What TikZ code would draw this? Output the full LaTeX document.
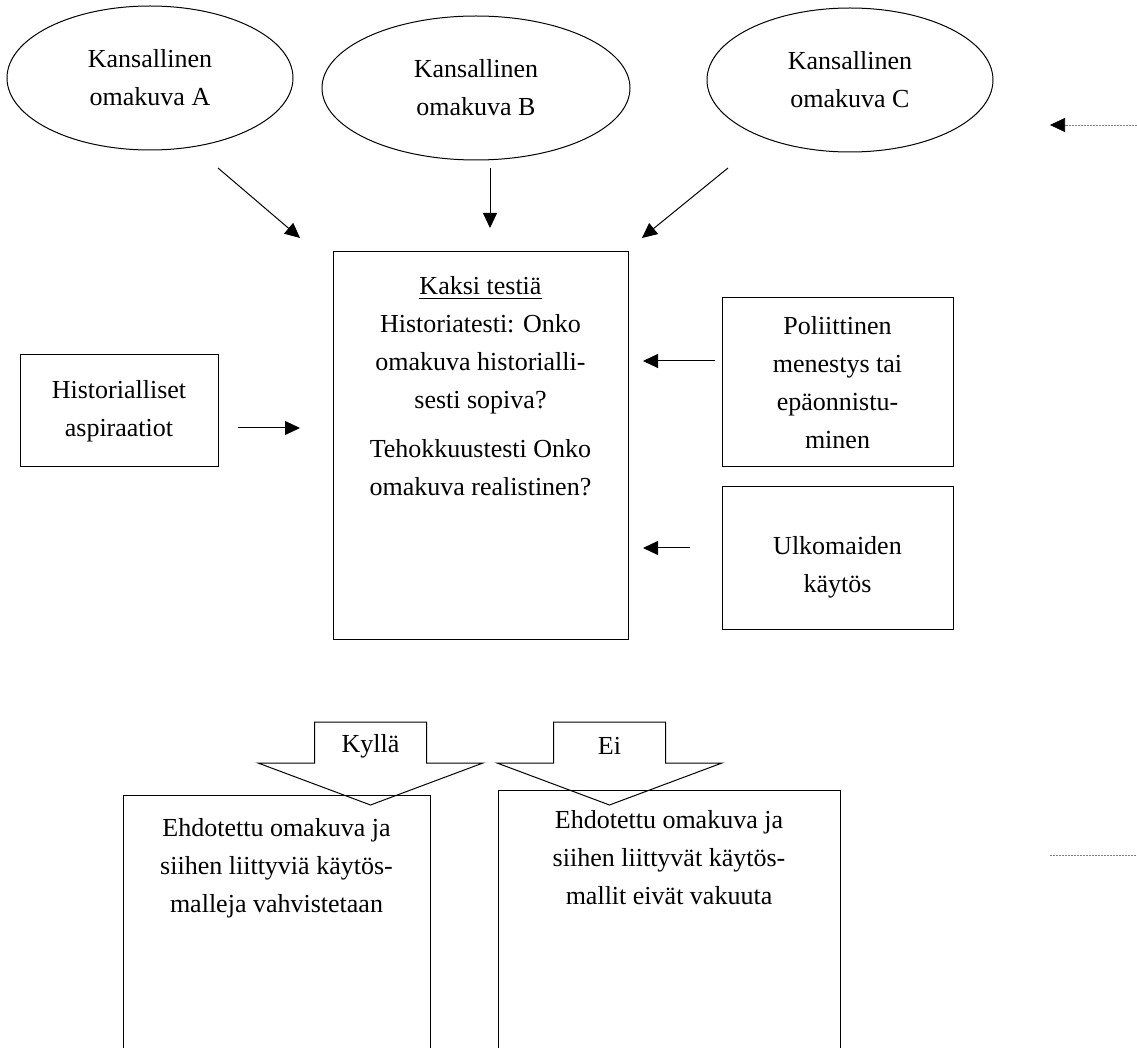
\documentclass[tikz,border=0pt]{standalone}
\usepackage{fontspec}
\setmainfont{Liberation Serif}
\usetikzlibrary{arrows.meta,shapes.geometric,positioning}

\begin{document}
\begin{tikzpicture}[
        x=0.5pt, y=-0.5pt,
        every node/.style = {font=\fontsize{13}{19}\selectfont, align=center},
        image/.style = {ellipse, draw, line width=0.5pt, minimum width=143pt, minimum height=72pt, inner sep=0pt},
        box/.style = {rectangle, draw, line width=0.5pt, inner sep=0pt},
        arr/.style = {-{Triangle[length=7.5pt,width=7pt]}, line width=0.5pt},
        dotline/.style = {gray, line width=0.3pt, dash pattern=on 1pt off 0.5pt}
    ]
    \useasboundingbox (0,0) rectangle (1137,1048);
    \clip (0,0) rectangle (1137,1048);
    \fill[white] (0,0) rectangle (1137,1048);

    % omakuvat
    \node[image]                     (imgA) at (150,78)  {Kansallinen\\omakuva A};
    \node[image, minimum width=154pt] (imgB) at (476,88)  {Kansallinen\\omakuva B};
    \node[image]                     (imgC) at (850,80)  {Kansallinen\\omakuva C};

    % testit
    \node[box, minimum width=147.5pt, minimum height=194pt] (tests) at (480.5,446) {};
    \node[inner sep=0pt, below=12.5pt of tests.north] (testtxt)
        {\underline{Kaksi testiä}\\Historiatesti: Onko\\omakuva historialli-\\sesti sopiva?\\[5.5pt]
         Tehokkuustesti Onko\\omakuva realistinen?};

    \node[box, minimum width=99pt, minimum height=56pt]     (hist) at (119,411)   {Historialliset\\aspiraatiot};
    \node[box, minimum width=115.5pt, minimum height=84.5pt] (pol)  at (837.5,382.5) {Poliittinen\\menestys tai\\epäonnistu-\\minen};
    \node[box, minimum width=115.5pt, minimum height=71.5pt] (ulko) at (837.5,558.5) {};
    \node[inner sep=0pt, below=25pt of ulko.north] (ulkotxt) {Ulkomaiden\\käytös};

    % tulokset
    \node[box, anchor=north, minimum width=153.5pt, minimum height=150pt] (yesbox) at (276.5,795) {};
    \node[inner sep=0pt, below=11.5pt of yesbox.north] (yestxt)
        {Ehdotettu omakuva ja\\siihen liittyviä käytös-\\malleja vahvistetaan};
    \node[box, anchor=north, minimum width=171pt, minimum height=150pt] (nobox) at (669,790) {};
    \node[inner sep=0pt, below=10pt of nobox.north] (notxt)
        {Ehdotettu omakuva ja\\siihen liittyvät käytös-\\mallit eivät vakuuta};

    \foreach \cx/\lab/\nm in {370.5/Kyllä/yes, 609.5/Ei/no}{
        \draw[line width=0.5pt] (\cx-112.5,763) -- (\cx-56,763) -- (\cx-56,722) -- (\cx+56,722)
            -- (\cx+56,763) -- (\cx+112.5,763) -- (\cx,805) -- cycle;
        \node (\nm) at (\cx,746) {\lab};
    }

    % nuolet
    \coordinate (a1) at (218,168);  \coordinate (a2) at (300,238);
    \coordinate (b1) at (490,168);  \coordinate (b2) at (490,228);
    \coordinate (c1) at (728,168);  \coordinate (c2) at (642,238);
    \coordinate (h1) at (238,428);  \coordinate (h2) at (300,428);
    \coordinate (p1) at (715,361);  \coordinate (p2) at (643,361);
    \coordinate (u1) at (690,548);  \coordinate (u2) at (643,548);
    \draw[arr] (a1) -- (a2);
    \draw[arr] (b1) -- (b2);
    \draw[arr] (c1) -- (c2);
    \draw[arr] (h1) -- (h2);
    \draw[arr] (p1) -- (p2);
    \draw[arr] (u1) -- (u2);

    \coordinate (in1) at (1137,125);  \coordinate (in2) at (1050,125);
    \draw[dotline, -{Triangle[length=7.5pt,width=7pt,color=black]}] (in1) -- (in2);
    \coordinate (out1) at (1050,855); \coordinate (out2) at (1137,855);
    \draw[dotline] (out1) -- (out2);
\end{tikzpicture}
\end{document}
